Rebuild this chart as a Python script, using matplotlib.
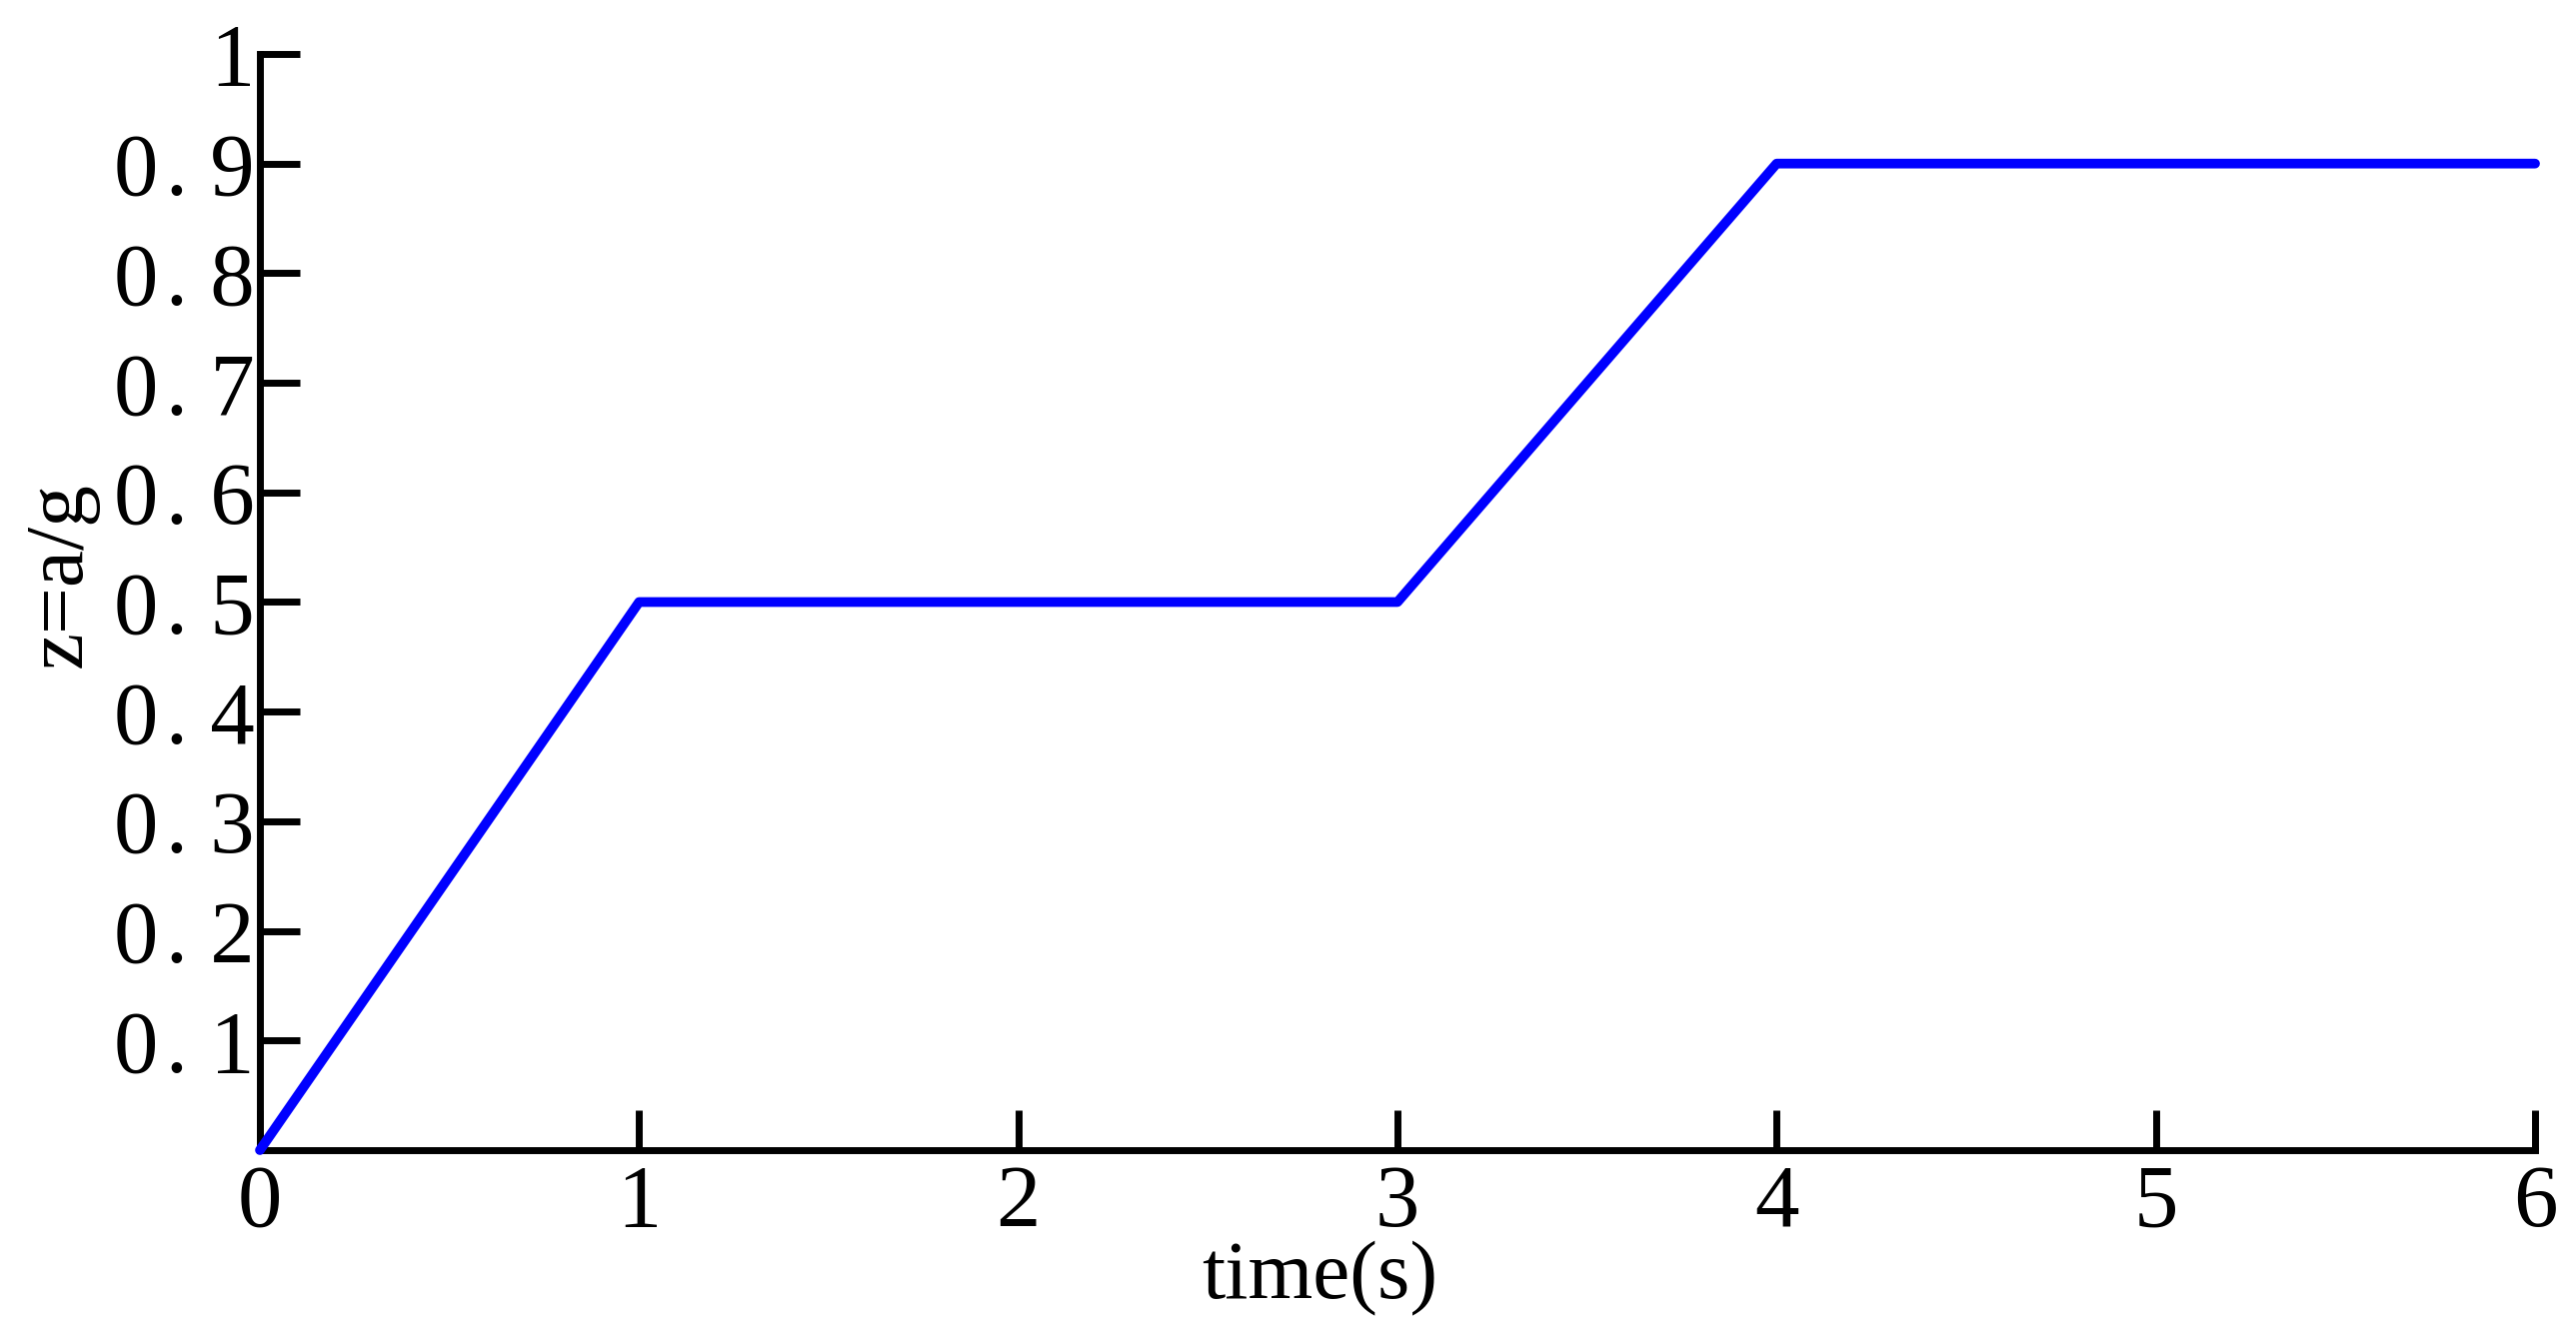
import matplotlib
matplotlib.use("Agg")
import matplotlib.pyplot as plt

# data (breakpoints of the piecewise curve)
time_s = [0, 1, 3, 4, 6]
z_vals = [0.0, 0.5, 0.5, 0.9, 0.9]

x_ticks = [0, 1, 2, 3, 4, 5, 6]
x_ticklabels = ["0", "1", "2", "3", "4", "5", "6"]
y_ticks = [0.1, 0.2, 0.3, 0.4, 0.5, 0.6, 0.7, 0.8, 0.9, 1.0]
y_ticklabels = ["0\u200a. 1", "0\u200a. 2", "0\u200a. 3", "0\u200a. 4", "0\u200a. 5",
                "0\u200a. 6", "0\u200a. 7", "0\u200a. 8", "0\u200a. 9", "1"]

plt.rcParams['font.family'] = ['Liberation Serif', 'DejaVu Serif']

fig = plt.figure(figsize=(25.77, 13.30), dpi=100)
ax = fig.add_axes([0.1009, 0.1346, 0.9841 - 0.1009, 0.9594 - 0.1346])

ax.plot(time_s, z_vals, color=(0, 0, 1), lw=7, solid_capstyle='round',
        solid_joinstyle='round', clip_on=False, zorder=3)

ax.set_xlim(0, 6)
ax.set_ylim(0, 1)
ax.set_xticks(x_ticks)
ax.set_xticklabels(x_ticklabels)
ax.set_yticks(y_ticks)
ax.set_yticklabels(y_ticklabels)

for s in ['top', 'right']:
    ax.spines[s].set_visible(False)
for s in ['left', 'bottom']:
    ax.spines[s].set_linewidth(5)
    ax.spines[s].set_capstyle('projecting')

ax.tick_params(axis='both', direction='in', length=28.8, width=5, labelsize=64,
               colors='black')
ax.tick_params(axis='y', pad=4)
ax.tick_params(axis='x', pad=10)

ax.set_xlabel('time(s)', fontsize=60)
ax.set_ylabel('z=a/g', fontsize=60)
ax.xaxis.label.set_verticalalignment('center')
ax.xaxis.set_label_coords(0.466, -0.1176)
ax.yaxis.label.set_verticalalignment('center')
ax.yaxis.set_label_coords(-0.0874, 0.525)

fig.savefig('out.png', dpi=100)
